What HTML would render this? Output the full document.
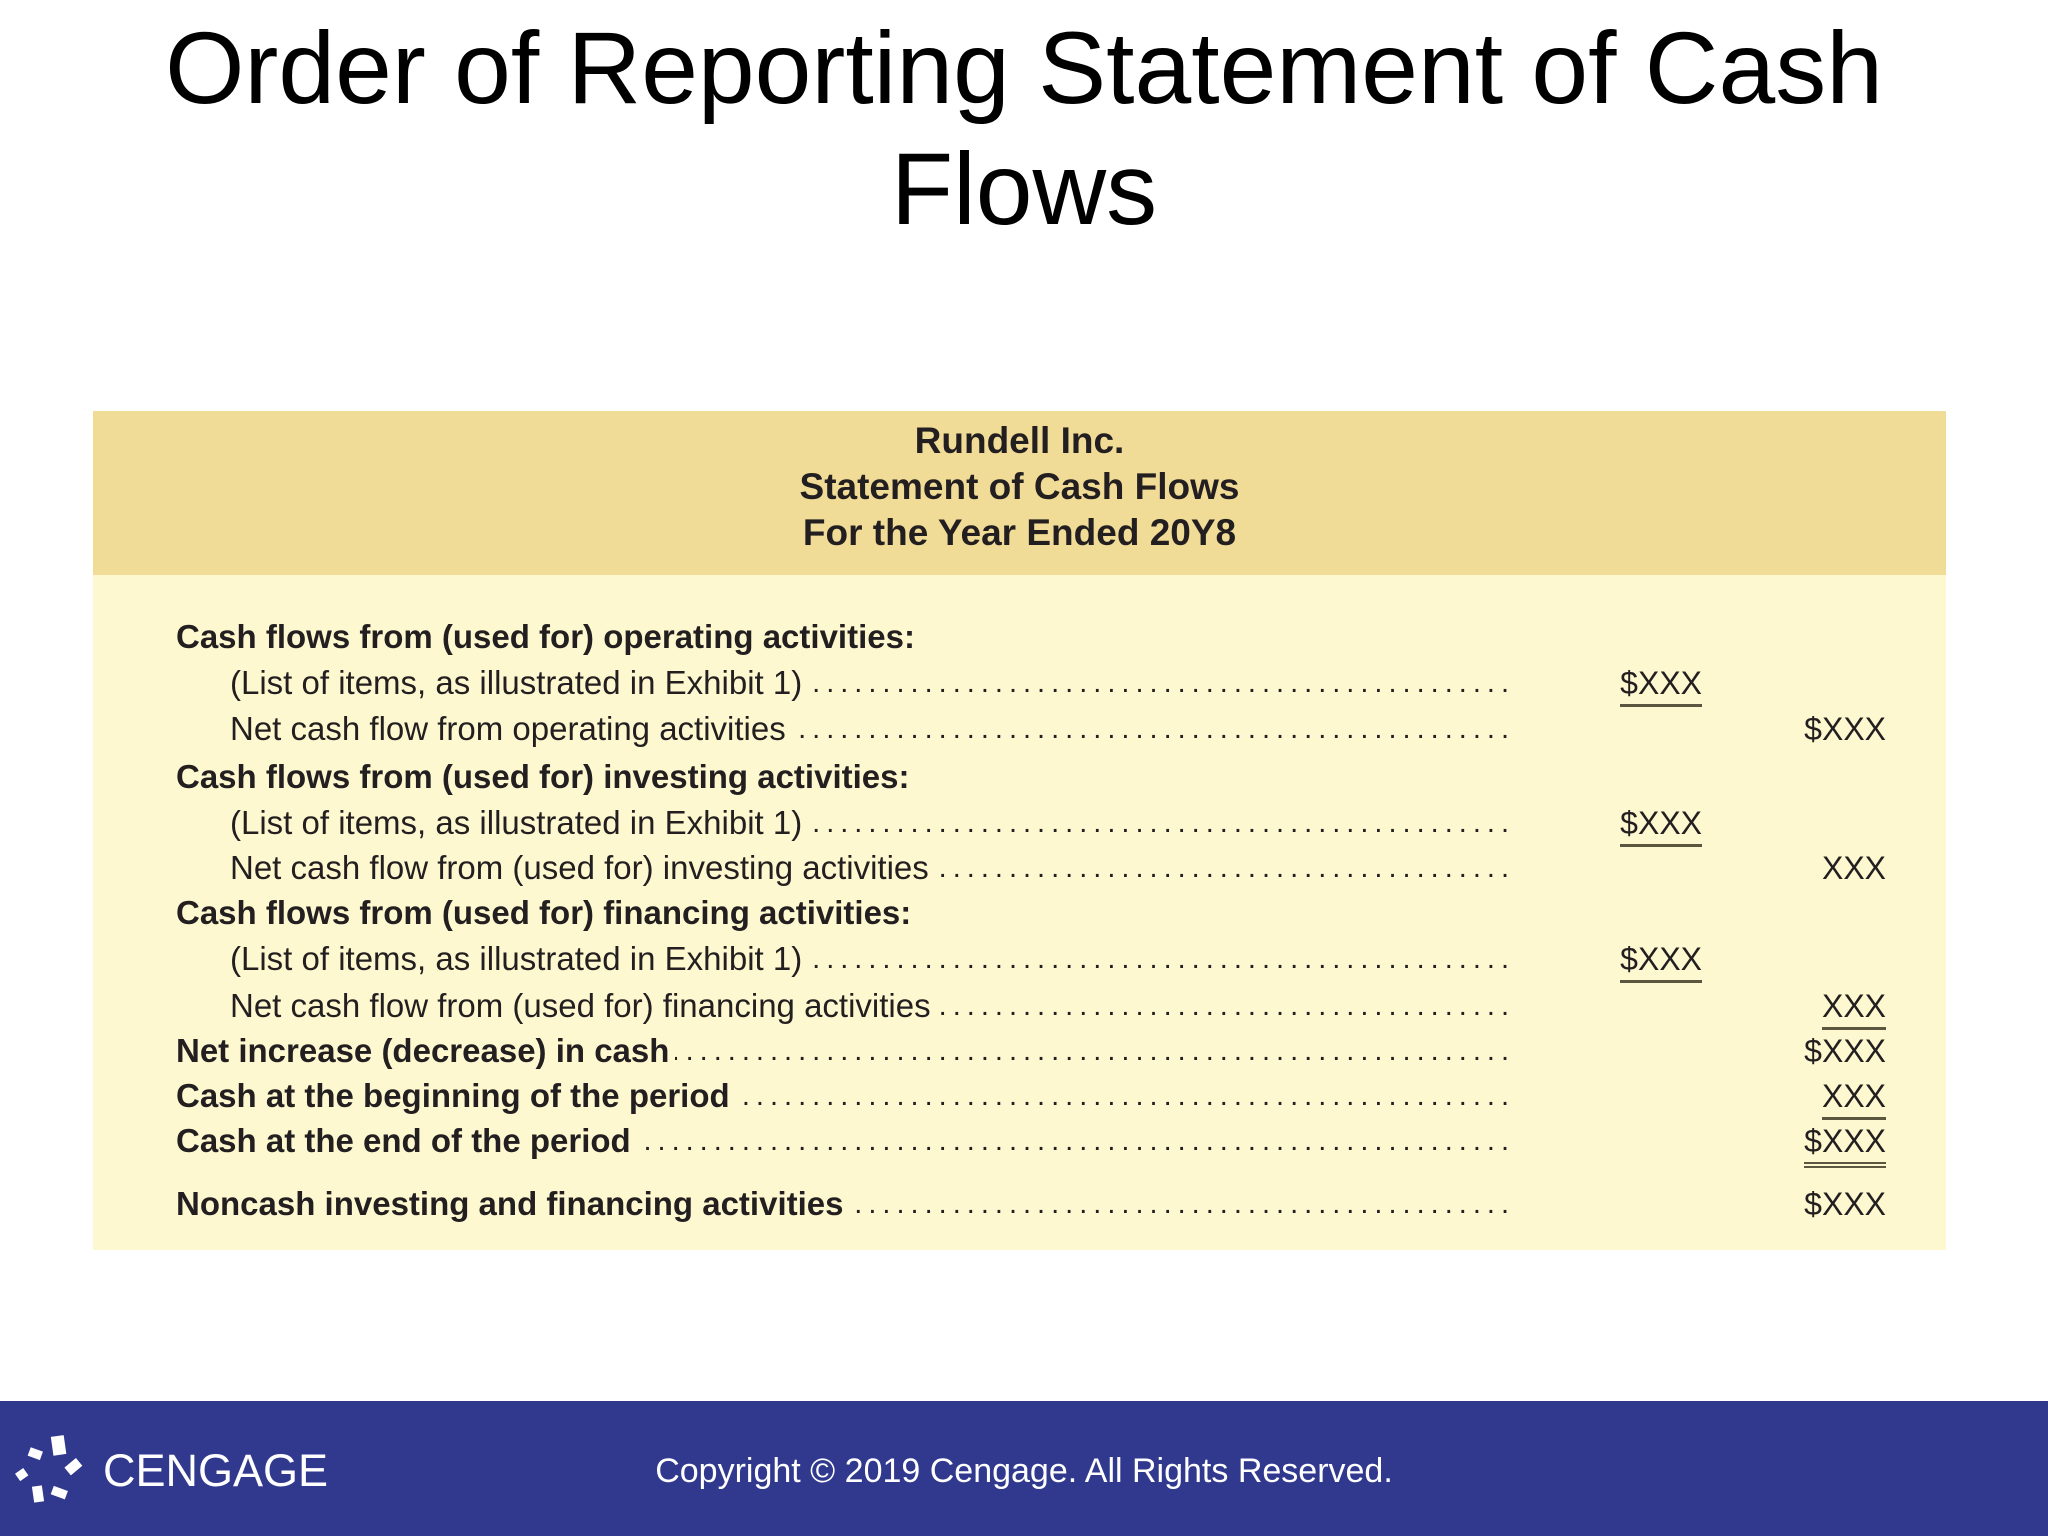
<!DOCTYPE html>
<html><head><meta charset="utf-8"><style>
body{margin:0;width:2048px;height:1536px;background:#fff;position:relative;overflow:hidden;font-family:"Liberation Sans",sans-serif;color:#000}
.title{position:absolute;left:0;width:2048px;top:8px;text-align:center;font-size:102px;line-height:121px}
.box{position:absolute;left:93px;top:411px;width:1853px;height:839px;background:#fdf8cf}
.hdr{position:absolute;left:93px;top:411px;width:1853px;height:164px;background:#f1dc97;text-align:center;font-weight:bold;font-size:37px;line-height:46px;color:#231f20;padding-top:7px;box-sizing:border-box}
.row{position:absolute;left:176px;width:1339px;height:40px;display:flex;align-items:center;font-size:33px;color:#231f20;white-space:nowrap}
.row.b{font-weight:bold}
.row.i{left:230px;width:1285px}
.dots{flex:1;overflow:hidden;margin-left:6px;letter-spacing:6px;text-align:right;direction:rtl;font-weight:normal;font-size:29px}
.amt{position:absolute;font-size:32px;color:#231f20;height:40px;line-height:40px;text-align:right}
.c1{left:1600px;width:102px}
.c2{left:1780px;width:106px}
.u{border-bottom:3px solid #5a5640;padding-bottom:3px}
.foot{position:absolute;left:0;top:1401px;width:2048px;height:135px;background:#30398d;color:#fff}
</style></head><body>
<div class="title">Order of Reporting Statement of Cash<br>Flows</div>
<div class="box"></div>
<div class="hdr">Rundell Inc.<br>Statement of Cash Flows<br>For the Year Ended 20Y8</div>

<div class="row b" style="top:617px">Cash flows from (used for) operating activities:</div>
<div class="row i" style="top:663px">(List of items, as illustrated in Exhibit 1)<span class="dots">..................................................................................</span></div>
<div class="amt c1" style="top:663px"><span class="u">$XXX</span></div>
<div class="row i" style="top:709px">Net cash flow from operating activities<span class="dots">..................................................................................</span></div>
<div class="amt c2" style="top:709px">$XXX</div>

<div class="row b" style="top:757px">Cash flows from (used for) investing activities:</div>
<div class="row i" style="top:803px">(List of items, as illustrated in Exhibit 1)<span class="dots">..................................................................................</span></div>
<div class="amt c1" style="top:803px"><span class="u">$XXX</span></div>
<div class="row i" style="top:848px">Net cash flow from (used for) investing activities<span class="dots">..................................................................................</span></div>
<div class="amt c2" style="top:848px">XXX</div>

<div class="row b" style="top:893px">Cash flows from (used for) financing activities:</div>
<div class="row i" style="top:939px">(List of items, as illustrated in Exhibit 1)<span class="dots">..................................................................................</span></div>
<div class="amt c1" style="top:939px"><span class="u">$XXX</span></div>
<div class="row i" style="top:986px">Net cash flow from (used for) financing activities<span class="dots">..................................................................................</span></div>
<div class="amt c2" style="top:986px"><span class="u">XXX</span></div>

<div class="row b" style="top:1031px">Net increase (decrease) in cash<span class="dots">..................................................................................</span></div>
<div class="amt c2" style="top:1031px">$XXX</div>
<div class="row b" style="top:1076px">Cash at the beginning of the period<span class="dots">..................................................................................</span></div>
<div class="amt c2" style="top:1076px"><span class="u">XXX</span></div>
<div class="row b" style="top:1121px">Cash at the end of the period<span class="dots">..................................................................................</span></div>
<div class="amt c2" style="top:1121px"><span class="u" style="border-bottom:6px double #5a5640">$XXX</span></div>
<div class="row b" style="top:1184px">Noncash investing and financing activities<span class="dots">..................................................................................</span></div>
<div class="amt c2" style="top:1184px">$XXX</div>

<div class="foot">
<svg style="position:absolute;left:14px;top:34px" width="80" height="72" viewBox="0 0 80 72">
<g fill="#fff">
<rect x="38" y="1" width="13" height="19" transform="rotate(-8 44 10)"/>
<rect x="15" y="14" width="13" height="9" transform="rotate(20 21 18)"/>
<rect x="52" y="27" width="15" height="10" transform="rotate(-40 59 32)"/>
<rect x="3" y="35" width="10" height="9" transform="rotate(-35 8 40)"/>
<rect x="19" y="51" width="10" height="16" transform="rotate(-8 24 59)"/>
<rect x="38" y="53" width="15" height="9" transform="rotate(20 45 57)"/>
</g></svg>
<div style="position:absolute;left:103px;top:40px;font-size:45px;letter-spacing:0px;line-height:60px">CENGAGE</div>
<div style="position:absolute;left:0;width:2048px;text-align:center;top:50px;font-size:34px;line-height:40px;box-sizing:border-box">Copyright © 2019 Cengage. All Rights Reserved.</div>
</div>
</body></html>
